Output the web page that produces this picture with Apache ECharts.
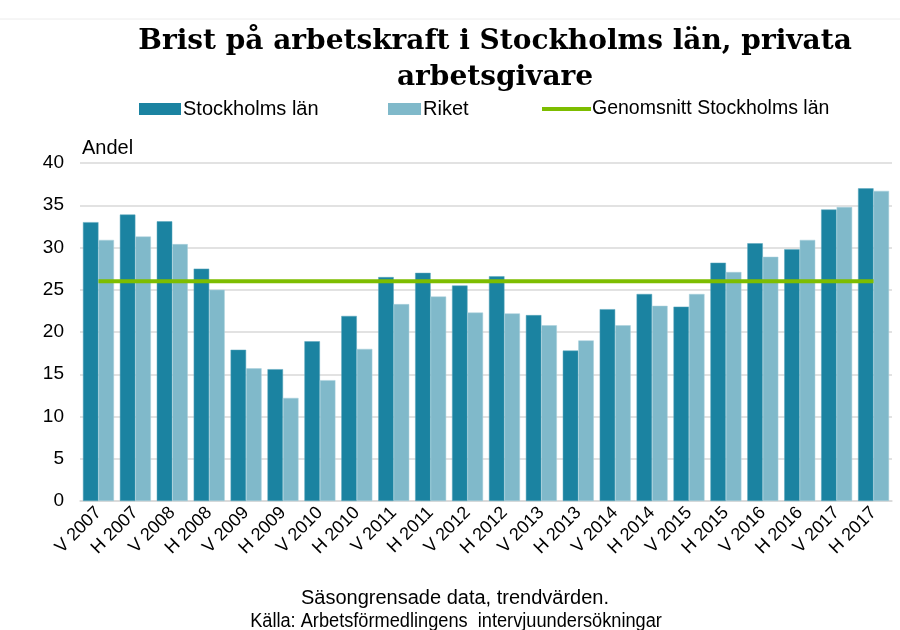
<!DOCTYPE html>
<html>
<head>
<meta charset="utf-8">
<script src="https://cdn.jsdelivr.net/npm/echarts@6/dist/echarts.min.js"></script>
<style>
  html, body { margin: 0; padding: 0; background: #fff; }
  #chart { width: 900px; height: 630px; }
</style>
</head>
<body>
<div id="chart"></div>
<script>
// Halvår (V = vår, H = höst)
const categories = [
  'V 2007', 'H 2007', 'V 2008', 'H 2008', 'V 2009', 'H 2009', 'V 2010', 'H 2010',
  'V 2011', 'H 2011', 'V 2012', 'H 2012', 'V 2013', 'H 2013', 'V 2014', 'H 2014',
  'V 2015', 'H 2015', 'V 2016', 'H 2016', 'V 2017', 'H 2017'
]
const stockholm = [33.0, 33.9, 33.1, 27.5, 17.9, 15.6, 18.9, 21.9, 26.5, 27.0, 25.5, 26.6,
  22.0, 17.8, 22.7, 24.5, 23.0, 28.2, 30.5, 29.8, 34.5, 37.0]
const riket = [30.9, 31.3, 30.4, 25.0, 15.7, 12.2, 14.3, 18.0, 23.3, 24.2, 22.3, 22.2,
  20.8, 19.0, 20.8, 23.1, 24.5, 27.1, 28.9, 30.9, 34.8, 36.7]
const genomsnittValue = 26.0
const genomsnitt = categories.map(() => genomsnittValue)

const chart = echarts.init(document.getElementById('chart'))
const sans = 'Liberation Sans, Arial, sans-serif'
const legendText = { fontFamily: sans, fontSize: 20, color: '#000', padding: [0, 0, 0, -3] }

chart.setOption({
  animation: false,
  title: {
    text: 'Brist på arbetskraft i Stockholms län, privata\narbetsgivare',
    left: 490,
    top: 19,
    textAlign: 'center',
    textStyle: {
      fontFamily: 'DejaVu Serif, serif',
      fontWeight: 'bold',
      fontSize: 28,
      lineHeight: 36,
      color: '#000'
    }
  },
  legend: [
    {
      data: [{ name: 'Stockholms län', icon: 'rect' }], left: 134, top: 94,
      itemWidth: 42, itemHeight: 12,
      itemStyle: { borderWidth: 0 },
      textStyle: legendText
    },
    {
      data: [{ name: 'Riket', icon: 'rect' }], left: 383, top: 94,
      itemWidth: 33, itemHeight: 12,
      itemStyle: { borderWidth: 0 },
      textStyle: legendText
    },
    {
      data: [{ name: 'Genomsnitt Stockholms län', icon: 'rect' }], left: 537, top: 94,
      itemWidth: 49, itemHeight: 4,
      itemStyle: { borderWidth: 0 },
      textStyle: Object.assign({}, legendText, { fontSize: 19.5, padding: [0, 0, 0, -4] })
    }
  ],
  grid: { left: 80, right: 8, top: 163, bottom: 129 },
  xAxis: {
    type: 'category',
    data: categories,
    axisLine: { lineStyle: { color: '#d9d9d9', width: 1.5 } },
    axisTick: { show: false },
    axisLabel: {
      interval: 0,
      rotate: 45,
      fontFamily: sans,
      fontSize: 18,
      color: '#000',
      margin: 9
    }
  },
  yAxis: {
    type: 'value',
    min: 0,
    max: 40,
    interval: 5,
    name: 'Andel',
    nameLocation: 'end',
    nameGap: 5,
    nameTextStyle: { fontFamily: sans, fontSize: 20, color: '#000', align: 'left', padding: [0, 0, 0, 2] },
    axisLine: { show: false },
    axisTick: { show: false },
    axisLabel: { fontFamily: sans, fontSize: 19, color: '#000', margin: 16 },
    splitLine: { lineStyle: { color: '#d9d9d9', width: 1.5 } }
  },
  series: [
    {
      name: 'Stockholms län',
      type: 'bar',
      data: stockholm,
      barGap: '0%',
      barCategoryGap: '16%',
      itemStyle: { color: '#1b83a1', borderColor: '#5aa6bd', borderWidth: 0.5 }
    },
    {
      name: 'Riket',
      type: 'bar',
      data: riket,
      itemStyle: { color: '#80b9ca', borderColor: '#a9d0dc', borderWidth: 0.5 }
    },
    {
      name: 'Genomsnitt Stockholms län',
      type: 'line',
      data: genomsnitt,
      symbol: 'none',
      lineStyle: { color: '#7dbd00', width: 4 },
      itemStyle: { color: '#7dbd00' },
      z: 5
    }
  ],
  graphic: [
    {
      type: 'line',
      shape: { x1: 0, y1: 19, x2: 900, y2: 19 },
      style: { stroke: '#ececec', lineWidth: 1 }
    },
    {
      type: 'text',
      x: 455,
      y: 598,
      style: {
        text: 'Säsongrensade data, trendvärden.',
        fontFamily: sans, fontSize: 20, fill: '#000',
        align: 'center', verticalAlign: 'middle'
      }
    },
    {
      type: 'text',
      x: 456,
      y: 621,
      scaleX: 0.91,
      style: {
        text: 'Källa: Arbetsförmedlingens  intervjuundersökningar',
        fontFamily: sans, fontSize: 20, fill: '#000',
        align: 'center', verticalAlign: 'middle'
      }
    }
  ]
})
</script>
</body>
</html>
